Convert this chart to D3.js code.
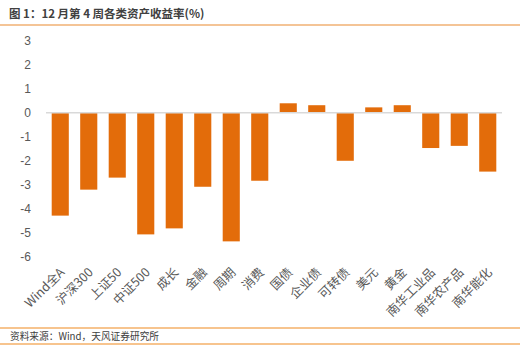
<!DOCTYPE html>
<html><head><meta charset="utf-8">
<script src="https://cdn.jsdelivr.net/npm/d3@7"></script>
<style>
html,body{margin:0;padding:0;background:#fff;}
svg{display:block;}
</style></head>
<body>
<script>
const categories = ["Wind全A","沪深300","上证50","中证500","成长","金融","周期","消费","国债","企业债","可转债","美元","黄金","南华工业品","南华农产品","南华能化"];
const values = [-4.28,-3.2,-2.7,-5.06,-4.81,-3.08,-5.35,-2.83,0.39,0.31,-2.0,0.22,0.31,-1.47,-1.38,-2.45];
const yTicks = [3,2,1,0,-1,-2,-3,-4,-5,-6];
const titleText = "图 1：12 月第 4 周各类资产收益率(%)";
const sourceText = "资料来源：Wind，天风证券研究所";

const W = 527, H = 357;
const svg = d3.select("body").append("svg").attr("width", W).attr("height", H);
const font = "'Noto Sans CJK SC','Microsoft YaHei',sans-serif";

// title
svg.append("text").attr("x", 9).attr("y", 18)
  .attr("font-family", font).attr("font-size", 11.5).attr("font-weight", "bold")
  .attr("fill", "#404040").text(titleText);
svg.append("line").attr("x1", 0).attr("x2", 520).attr("y1", 25).attr("y2", 25)
  .attr("stroke", "#E98A2E").attr("stroke-width", 1.2);

const x = d3.scaleBand().domain(categories).range([46, 502]).paddingInner(0.4).paddingOuter(0.2);
const y = d3.scaleLinear().domain([-6, 3]).range([257, 40.5]);

// y axis labels
svg.append("g").selectAll("text").data(yTicks).join("text")
  .attr("x", 31).attr("y", d => y(d)).attr("dy", "0.36em")
  .attr("text-anchor", "end").attr("font-family", "Arial, 'Liberation Sans', sans-serif")
  .attr("font-size", 12).attr("fill", "#595959").text(d => d);

// bars
svg.append("g").selectAll("rect").data(values).join("rect")
  .attr("x", (d, i) => x(categories[i]))
  .attr("width", x.bandwidth())
  .attr("y", d => y(Math.max(0, d)))
  .attr("height", d => Math.abs(y(d) - y(0)))
  .attr("fill", "#E36C0A");

// zero line
svg.append("line").attr("x1", 46).attr("x2", 502).attr("y1", y(0)).attr("y2", y(0))
  .attr("stroke", "#D9D9D9").attr("stroke-width", 1.5);

// category labels
svg.append("g").selectAll("text").data(categories).join("text")
  .attr("transform", d => `translate(${x(d) + x.bandwidth()/2 + 2},${270}) rotate(-45)`)
  .attr("text-anchor", "end").attr("dy", "0.35em")
  .attr("font-family", font).attr("font-size", 12.5).attr("fill", "#595959").text(d => d);

// footer
svg.append("line").attr("x1", 0).attr("x2", 520).attr("y1", 328).attr("y2", 328)
  .attr("stroke", "#F08A1E").attr("stroke-width", 1.2);
svg.append("text").attr("x", 10).attr("y", 340)
  .attr("font-family", font).attr("font-size", 9.7).attr("fill", "#404040").text(sourceText);
svg.append("line").attr("x1", 0).attr("x2", 520).attr("y1", 344).attr("y2", 344)
  .attr("stroke", "#F08A1E").attr("stroke-width", 1.2);
</script>
</body></html>
